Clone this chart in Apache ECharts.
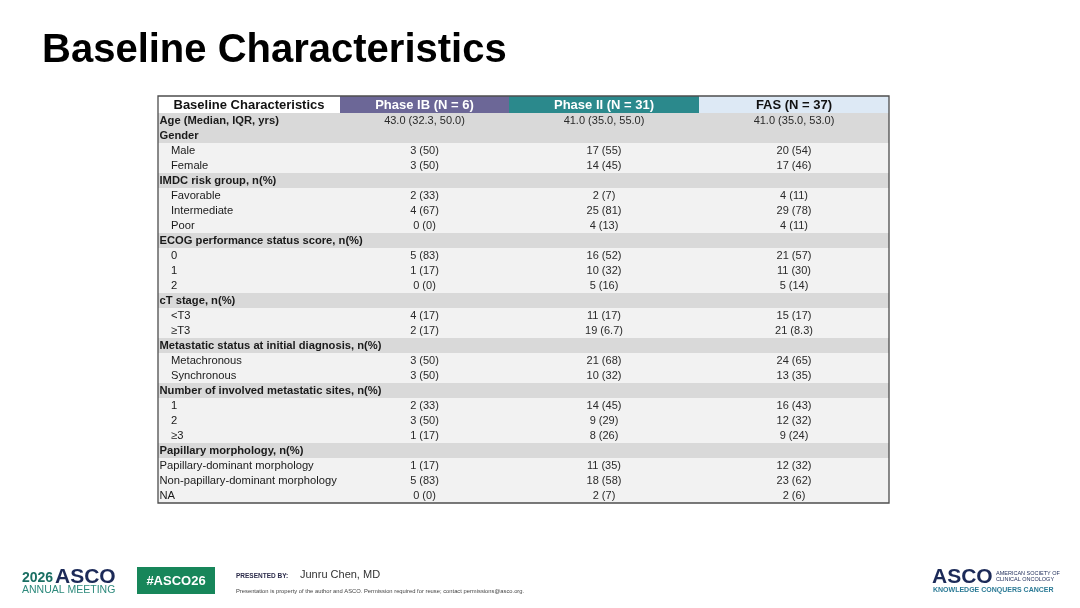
<!DOCTYPE html>
<html>
<head>
<meta charset="utf-8">
<script src="https://cdn.jsdelivr.net/npm/echarts@6/dist/echarts.min.js"></script>
<style>
html,body{margin:0;padding:0;background:#fff;}
#main{width:1080px;height:608px;}
</style>
</head>
<body>
<div id="main"></div>
<script>
// ---- data ----
const columnHeaders = ['Baseline Characteristics', 'Phase IB (N = 6)', 'Phase II (N = 31)', 'FAS (N = 37)'];
const rowLabels = [
  'Age (Median, IQR, yrs)', 'Gender', 'Male', 'Female',
  'IMDC risk group, n(%)', 'Favorable', 'Intermediate', 'Poor',
  'ECOG performance status score, n(%)', '0', '1', '2',
  'cT stage, n(%)', '<T3', '≥T3',
  'Metastatic status at initial diagnosis, n(%)', 'Metachronous', 'Synchronous',
  'Number of involved metastatic sites, n(%)', '1', '2', '≥3',
  'Papillary morphology, n(%)', 'Papillary-dominant morphology', 'Non-papillary-dominant morphology', 'NA'
];
const rowKinds = [
  'age', 'section', 'item', 'item',
  'section', 'item', 'item', 'item',
  'section', 'item', 'item', 'item',
  'section', 'item', 'item',
  'section', 'item', 'item',
  'section', 'item', 'item', 'item',
  'section', 'plain', 'plain', 'plain'
];
const phaseIB = [
  '43.0 (32.3, 50.0)', '', '3 (50)', '3 (50)',
  '', '2 (33)', '4 (67)', '0 (0)',
  '', '5 (83)', '1 (17)', '0 (0)',
  '', '4 (17)', '2 (17)',
  '', '3 (50)', '3 (50)',
  '', '2 (33)', '3 (50)', '1 (17)',
  '', '1 (17)', '5 (83)', '0 (0)'
];
const phaseII = [
  '41.0 (35.0, 55.0)', '', '17 (55)', '14 (45)',
  '', '2 (7)', '25 (81)', '4 (13)',
  '', '16 (52)', '10 (32)', '5 (16)',
  '', '11 (17)', '19 (6.7)',
  '', '21 (68)', '10 (32)',
  '', '14 (45)', '9 (29)', '8 (26)',
  '', '11 (35)', '18 (58)', '2 (7)'
];
const fas = [
  '41.0 (35.0, 53.0)', '', '20 (54)', '17 (46)',
  '', '4 (11)', '29 (78)', '4 (11)',
  '', '21 (57)', '11 (30)', '5 (14)',
  '', '15 (17)', '21 (8.3)',
  '', '24 (65)', '13 (35)',
  '', '16 (43)', '12 (32)', '9 (24)',
  '', '12 (32)', '23 (62)', '2 (6)'
];

// ---- layout / style (not data) ----
const colEdges = [0, 182, 351, 541, 731];
const headerFills = ['#ffffff', '#6c6797', '#2b898c', '#dde9f5'];
const headerTextColors = ['#111', '#ffffff', '#ffffff', '#111'];
const FONT = '"Liberation Sans", Arial, Helvetica, sans-serif';
const HEADER_EXTRA = 2;

const allRows = ['__header__'].concat(rowLabels);
const valueCols = [phaseIB, phaseII, fas];

const chart = echarts.init(document.getElementById('main'));

function renderItem(params, api) {
  const idx = params.dataIndex;
  const cs = params.coordSys;
  if (idx === allRows.length) {
    return {
      type: 'rect',
      shape: { x: cs.x, y: cs.y - HEADER_EXTRA, width: cs.width, height: cs.height + HEADER_EXTRA },
      style: { fill: 'none', stroke: '#4d4d4d', lineWidth: 1.3 },
      z2: 100
    };
  }
  const center = api.coord([0, idx]);
  const h = api.size([0, 1])[1];
  let yTop = center[1] - h / 2;
  let yMid = center[1];
  const children = [];
  const xs = colEdges.map(v => api.coord([v, idx])[0]);
  if (idx === 0) {
    yTop -= HEADER_EXTRA;
    const hh = h + HEADER_EXTRA;
    yMid = yTop + hh / 2;
    for (let c = 0; c < 4; c++) {
      children.push({
        type: 'rect',
        shape: { x: xs[c], y: yTop, width: xs[c + 1] - xs[c], height: hh },
        style: { fill: headerFills[c] }
      });
      children.push({
        type: 'text',
        x: (xs[c] + xs[c + 1]) / 2, y: yMid + 0.5,
        style: {
          text: columnHeaders[c], fill: headerTextColors[c],
          font: 'bold 13px ' + FONT, align: 'center', verticalAlign: 'middle'
        }
      });
    }
    return { type: 'group', children };
  }
  const r = idx - 1;
  const kind = rowKinds[r];
  const fill = (kind === 'age' || kind === 'section') ? '#d9d9d9' : '#f2f2f2';
  children.push({
    type: 'rect',
    shape: { x: xs[0], y: yTop, width: xs[4] - xs[0], height: h },
    style: { fill: fill }
  });
  const bold = (kind === 'age' || kind === 'section');
  const indent = kind === 'item' ? 13 : 1.5;
  children.push({
    type: 'text',
    x: xs[0] + indent, y: yMid + 0.5,
    style: {
      text: rowLabels[r], fill: '#1a1a1a',
      font: (bold ? 'bold ' : '') + '11.2px ' + FONT, align: 'left', verticalAlign: 'middle'
    }
  });
  for (let c = 0; c < 3; c++) {
    const t = valueCols[c][r];
    if (!t) continue;
    children.push({
      type: 'text',
      x: (xs[c + 1] + xs[c + 2]) / 2, y: yMid + 0.5,
      style: {
        text: t, fill: '#2a2a2a',
        font: '11px ' + FONT, align: 'center', verticalAlign: 'middle'
      }
    });
  }
  return { type: 'group', children };
}

const seriesData = allRows.map((_, i) => [0, i]);
seriesData.push([0, 0]); // frame

const option = {
  backgroundColor: '#ffffff',
  animation: false,
  grid: { left: 158, top: 98, width: 731, height: 405, containLabel: false },
  xAxis: { type: 'value', min: 0, max: 731, show: false },
  yAxis: { type: 'category', data: allRows, inverse: true, show: false },
  series: [{
    type: 'custom',
    renderItem: renderItem,
    data: seriesData,
    clip: false,
    silent: true
  }],
  graphic: [
    { type: 'text', x: 42, y: 51, style: { text: 'Baseline Characteristics', font: 'bold 40px ' + FONT, fill: '#000', verticalAlign: 'middle' } },
    // left footer logo
    { type: 'text', x: 22, y: 578, style: { text: '2026', font: 'bold 14px ' + FONT, fill: '#1b6f63', verticalAlign: 'middle' } },
    { type: 'text', x: 55, y: 577, style: { text: 'ASCO', font: 'bold 21px ' + FONT, fill: '#1c2a58', verticalAlign: 'middle' } },
    { type: 'text', x: 22, y: 590, style: { text: 'ANNUAL MEETING', font: '10.5px ' + FONT, fill: '#2d8a7c', verticalAlign: 'middle' } },
    { type: 'rect', shape: { x: 137, y: 567, width: 78, height: 27 }, style: { fill: '#17865a' } },
    { type: 'text', x: 176, y: 581, style: { text: '#ASCO26', font: 'bold 13px ' + FONT, fill: '#ffffff', align: 'center', verticalAlign: 'middle' } },
    { type: 'text', x: 236, y: 576, style: { text: 'PRESENTED BY:', font: 'bold 6.5px ' + FONT, fill: '#2b2b4a', verticalAlign: 'middle' } },
    { type: 'text', x: 300, y: 575, style: { text: 'Junru Chen, MD', font: '11px ' + FONT, fill: '#333', verticalAlign: 'middle' } },
    { type: 'text', x: 236, y: 591, style: { text: 'Presentation is property of the author and ASCO. Permission required for reuse; contact permissions@asco.org.', font: '5.8px ' + FONT, fill: '#444', verticalAlign: 'middle' } },
    // right footer logo
    { type: 'text', x: 932, y: 577, style: { text: 'ASCO', font: 'bold 21px ' + FONT, fill: '#1c2a58', verticalAlign: 'middle' } },
    { type: 'text', x: 996, y: 573, style: { text: 'AMERICAN SOCIETY OF', font: '5.5px ' + FONT, fill: '#1c2a58', verticalAlign: 'middle' } },
    { type: 'text', x: 996, y: 579, style: { text: 'CLINICAL ONCOLOGY', font: '5.5px ' + FONT, fill: '#1c2a58', verticalAlign: 'middle' } },
    { type: 'text', x: 933, y: 590, style: { text: 'KNOWLEDGE CONQUERS CANCER', font: 'bold 7px ' + FONT, fill: '#2c7b96', verticalAlign: 'middle' } }
  ]
};
chart.setOption(option);
</script>
</body>
</html>
